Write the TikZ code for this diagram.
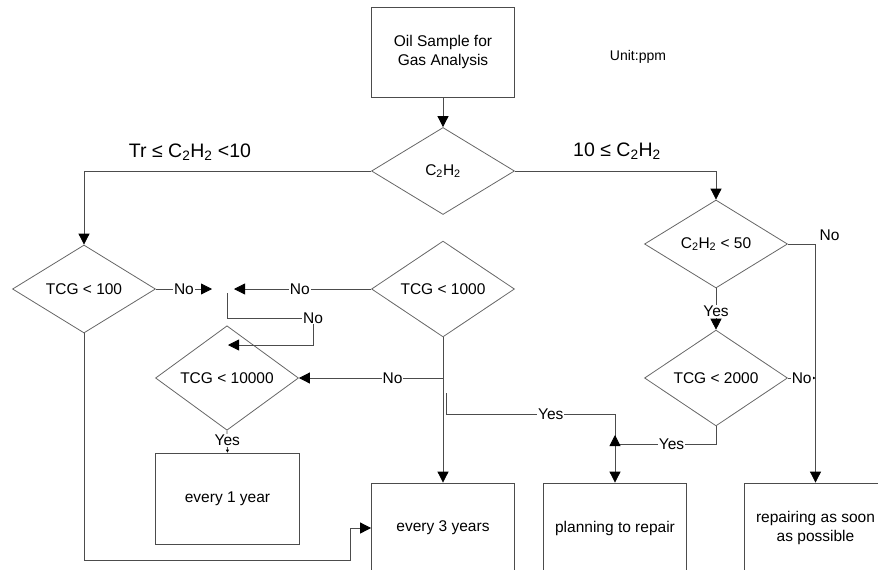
\documentclass[tikz,border=0pt]{standalone}
\usepackage{fontspec}
\setmainfont{Liberation Sans}
\usepackage{tikz}
\usetikzlibrary{arrows.meta,positioning,shapes.geometric}

\begin{document}
\begin{tikzpicture}[x=1pt,y=-1pt,
  font=\fontsize{15.5}{18.5}\selectfont,
  line width=0.8pt,
  conn/.style={draw=black!70},
  tip/.style={-{Triangle[length=11pt,width=11pt,color=black]}},
  smalltip/.style={-{Triangle[length=3pt,width=3pt,color=black]}},
  box/.style={draw=black!70,rectangle,minimum width=143pt,minimum height=90pt,align=center,inner sep=0pt},
  test/.style={draw=black!60,diamond,minimum width=143pt,minimum height=88pt,inner sep=0pt},
  lbl/.style={fill=white,inner sep=1pt},
  big/.style={font=\fontsize{19.5}{22}\selectfont}]
\useasboundingbox (0,0) rectangle (878,570);
\clip (0,0) rectangle (878,570);
% nodes
\node[box] (sample) at (443,52) {Oil Sample for\\Gas Analysis};
\node[font=\fontsize{14}{17}\selectfont] (unit) at (638,57) {Unit:ppm};
\node[test,minimum height=87pt] (acet) at (443,171) {C\textsubscript{2}H\textsubscript{2}};
\node[test] (tcgA) at (84,289) {TCG < 100};
\node[test] (tcgB) at (443,289) {TCG < 1000};
\node[test,minimum height=89pt] (tcgC) at (227,378) {TCG < 10000};
\node[test] (acetB) at (716,244) {C\textsubscript{2}H\textsubscript{2} < 50};
\node[test,minimum height=89pt] (tcgD) at (716,378) {TCG < 2000};
\node[box,minimum width=144pt,minimum height=91pt] (year1) at (227.5,498.5) {every 1 year};
\node[box] (year3) at (443,528) {every 3 years};
\node[box] (plan) at (615,528) {planning to repair};
\node[box] (asap) at (815.5,528) {repairing as soon\\as possible};
% free ends
\coordinate (noA) at (212,289);
\coordinate (noB) at (234,289);
\coordinate (loopA) at (227,293);
\coordinate (loopB) at (313,318);
\coordinate (loopC) at (228,345);
\coordinate (yesA) at (446,393);
\coordinate (yesB) at (615,414);
\coordinate (yesC) at (615,444);
\coordinate (yesD) at (615,435);
\coordinate (back) at (350,560);
% connectors
\draw[conn,tip] (sample) -- (acet);
\draw[conn,tip] (acet.west) -| (tcgA.north);
\node[big] at (190,152) {Tr ≤ C\textsubscript{2}H\textsubscript{2} <10};
\draw[conn,tip] (acet.east) -| (acetB.north);
\node[big] at (617,151) {10 ≤ C\textsubscript{2}H\textsubscript{2}};
\draw[conn,tip] (tcgA.east) -- node[lbl]{No} (noA);
\draw[conn,tip] (tcgB.west) -- node[lbl,pos=0.52]{No} (noB);
\draw[conn,tip] (loopA) |- (loopB) node[lbl]{No} |- (loopC);
\draw[conn,tip] (tcgB.south) -- (year3.north);
\draw[conn,tip] (tcgB.south |- tcgC.east) -- node[lbl,pos=0.35]{No} (tcgC.east);
\draw[conn,tip] (yesA) |- node[lbl,pos=0.81]{Yes} (yesB) -- (plan.north);
\draw[conn,tip] (tcgA.south) |- (back) |- (year3.west);
\draw[conn,smalltip] (tcgC.south) -- node[lbl,pos=0.45]{Yes} (year1.north);
\draw[conn,tip] (acetB.east) -| (asap.north);
\node[above right] at (816,244) {No};
\draw[conn,tip] (acetB.south) -- node[lbl,pos=0.55]{Yes} (tcgD.north);
\draw[conn,smalltip] (tcgD.east) -- node[lbl]{No} (tcgD.east -| asap.north);
\draw[conn,tip] (tcgD.south) |- node[lbl,pos=0.72]{Yes} (yesC) -- (yesD);
\end{tikzpicture}
\end{document}
